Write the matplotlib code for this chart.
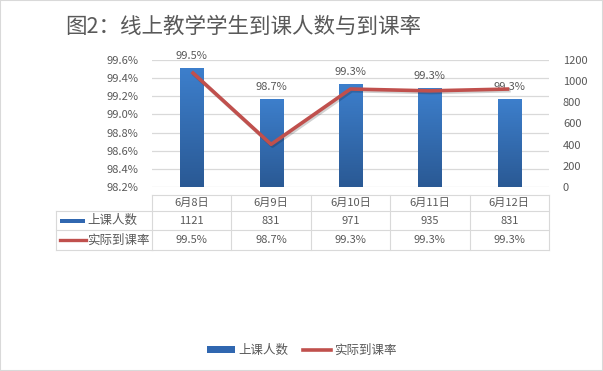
import numpy as np
import matplotlib
matplotlib.use("Agg")
import matplotlib.pyplot as plt
import matplotlib.patheffects as pe
from matplotlib.patches import Patch, Rectangle
from matplotlib.lines import Line2D
from matplotlib.transforms import blended_transform_factory

plt.rcParams['font.family'] = ['Noto Sans CJK SC', 'DejaVu Sans']

# data
dates = ["6月8日", "6月9日", "6月10日", "6月11日", "6月12日"]
counts = [1121, 831, 971, 935, 831]
rates = [99.47, 98.67, 99.28, 99.26, 99.28]
title = "图2：线上教学学生到课人数与到课率"
name_count = "上课人数"
name_rate = "实际到课率"

GRAY = "#595959"
GRID = "#D9D9D9"
BLUE_TOP = "#3D7FCC"
BLUE_BOT = "#2A5994"
RED = "#C0504D"

W, H = 603, 371
fig = plt.figure(figsize=(W / 100, H / 100), dpi=100)


def fy(py):
    # pixel y (from top) -> figure fraction
    return 1 - py / H


# axes: left = rate, right (ax2) = count, ax3 = line on rate scale
ax = fig.add_axes([152 / W, fy(187), 397 / W, 127 / H])
ax.set_xlim(-0.5, len(dates) - 0.5)
ax.set_ylim(98.2, 99.6)
ax.set_yticks(np.arange(98.2, 99.61, 0.2))
ax.set_yticklabels([f"{v:.1f}%" for v in np.arange(98.2, 99.61, 0.2)])
ax.grid(axis="y", color=GRID, lw=0.9)
ax.set_axisbelow(True)
ax.set_xticks([])

ax2 = ax.twinx()
ax2.set_ylim(0, 1200)
ax2.set_yticks(range(0, 1201, 200))

ax3 = ax.twinx()
ax3.set_ylim(ax.get_ylim())
ax3.set_xlim(ax.get_xlim())
ax3.axis("off")

for a in (ax, ax2):
    for s in a.spines.values():
        s.set_visible(False)
    a.tick_params(axis="y", length=0, labelsize=8, labelcolor=GRAY, pad=10)

# bars with vertical gradient
x = np.arange(len(dates))
bars = ax2.bar(x, counts, width=0.29, color="none", edgecolor="none")
grad = np.linspace(0, 1, 256).reshape(-1, 1)
cmap = matplotlib.colors.LinearSegmentedColormap.from_list("b", [BLUE_BOT, BLUE_TOP])
for b in bars:
    x0, w, h = b.get_x(), b.get_width(), b.get_height()
    im = ax2.imshow(grad, extent=[x0, x0 + w, 0, h], origin="lower",
                    cmap=cmap, aspect="auto", zorder=2)
    im.set_clip_path(b)
ax2.set_xlim(ax.get_xlim())
ax2.set_ylim(0, 1200)

# data labels (rate text above the bars)
for i, (c, r) in enumerate(zip(counts, rates)):
    ax2.annotate(f"{r:.1f}%", (i, c), xytext=(0, 9), textcoords="offset points",
                 ha="center", va="center", fontsize=8, color=GRAY, zorder=5)

# line
ax3.plot(x, rates, color=RED, lw=2.6, solid_capstyle="butt",
         path_effects=[pe.SimpleLineShadow(offset=(1, -1.2), alpha=0.18),
                       pe.Normal()])

# data table
tr = blended_transform_factory(ax.transData, fig.transFigure)
tf = fig.transFigure
lw = 0.8
xl, xr = -0.5, len(dates) - 0.5
fig.add_artist(Line2D([xl, xr], [fy(195)] * 2, transform=tr, color=GRID, lw=lw))
for py in (211, 230, 250):
    fig.add_artist(Line2D([56 / W, 152 / W], [fy(py)] * 2, transform=tf, color=GRID, lw=lw))
    fig.add_artist(Line2D([xl, xr], [fy(py)] * 2, transform=tr, color=GRID, lw=lw))
fig.add_artist(Line2D([56 / W] * 2, [fy(211), fy(250)], transform=tf, color=GRID, lw=lw))
for k in range(len(dates) + 1):
    fig.add_artist(Line2D([k - 0.5] * 2, [fy(195), fy(250)], transform=tr, color=GRID, lw=lw))

for i, d in enumerate(dates):
    fig.text(i, fy(203), d, transform=tr, ha="center", va="center", fontsize=8, color=GRAY)
    fig.text(i, fy(220.5), str(counts[i]), transform=tr, ha="center", va="center",
             fontsize=8, color=GRAY)
    fig.text(i, fy(240), f"{rates[i]:.1f}%", transform=tr, ha="center", va="center",
             fontsize=8, color=GRAY)

# row headers with legend keys
fig.add_artist(Rectangle((60 / W, fy(222.5)), 25 / W, 4 / H, transform=tf,
                         facecolor="#3067B0", edgecolor="none"))
fig.text(87 / W, fy(220.5), name_count, fontsize=9, color=GRAY, va="center")
fig.add_artist(Line2D([60 / W, 86 / W], [fy(240)] * 2, transform=tf, color=RED, lw=2.4))
fig.text(87 / W, fy(240), name_rate, fontsize=9, color=GRAY, va="center")

# title
fig.text(65 / W, fy(27), title, fontsize=15.5, fontweight="medium", color=GRAY, va="center")

# legend
handles = [Patch(facecolor="#3067B0", edgecolor="none"),
           Line2D([0], [0], color=RED, lw=2.6)]
fig.legend(handles, [name_count, name_rate], loc="center", bbox_to_anchor=(302 / W, fy(350)),
           ncol=2, frameon=False, fontsize=9, labelcolor=GRAY, handlelength=2.2,
           handleheight=0.5, handletextpad=0.3, columnspacing=1.2)

# outer frame
fig.add_artist(Rectangle((0, 0), 1, 1, transform=tf, fill=False, edgecolor=GRID, lw=1.5))

fig.savefig("out.png", dpi=100)
